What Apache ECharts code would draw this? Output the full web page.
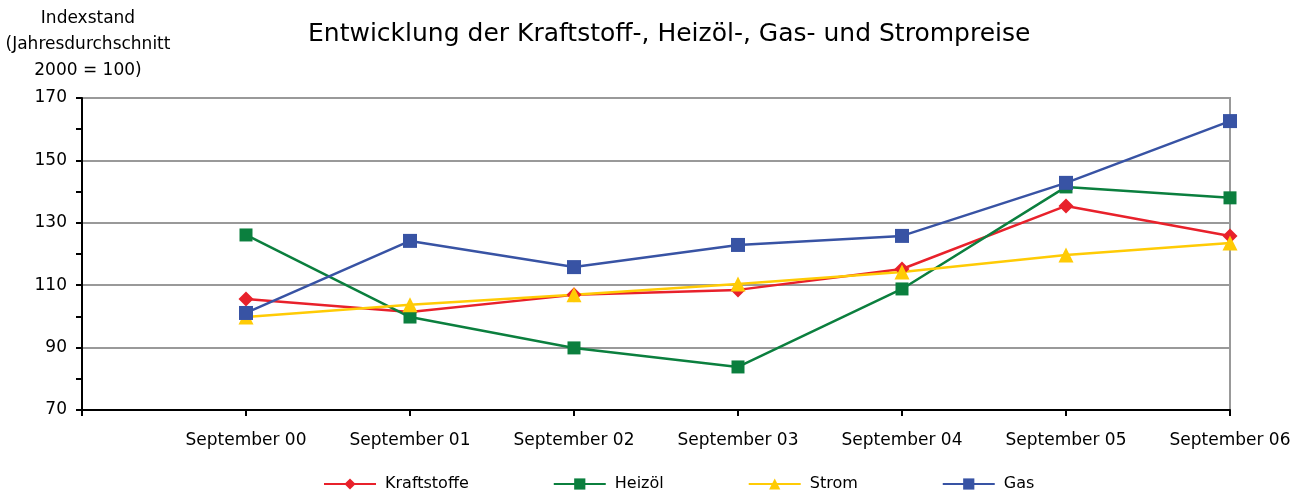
<!DOCTYPE html>
<html>
<head>
<meta charset="utf-8">
<script src="https://cdn.jsdelivr.net/npm/echarts@6/dist/echarts.min.js"></script>
<style>html,body{margin:0;padding:0;background:#fff;}#chart{width:1301px;height:491px;}</style>
</head>
<body>
<div id="chart"></div>
<script>
const categories = ['', 'September 00', 'September 01', 'September 02', 'September 03', 'September 04', 'September 05', 'September 06'];
const kraftstoffe = [105.6, 101.4, 106.9, 108.5, 115.2, 135.4, 125.8];
const heizoel = [126.1, 99.8, 89.9, 83.8, 108.8, 141.5, 138.0];
const strom = [99.8, 103.7, 106.9, 110.4, 114.2, 119.7, 123.5];
const gas = [101.1, 124.2, 115.8, 122.9, 125.8, 142.8, 162.6];
const yTicks = { min: 70, max: 170, interval: 20 };

const FONT = 'DejaVu Sans';
function mk(name, values, color, symbol, size) {
  return {
    name: name, type: 'line', data: [null].concat(values),
    symbol: symbol, symbolSize: size, showSymbol: true,
    lineStyle: { color: color, width: 2.5 },
    itemStyle: { color: color },
    animation: false
  };
}
const chart = echarts.init(document.getElementById('chart'));
chart.setOption({
  animation: false,
  textStyle: { fontFamily: FONT },
  title: {
    text: 'Entwicklung der Kraftstoff-, Heizöl-, Gas- und Strompreise',
    left: 303, top: 17,
    textStyle: { fontFamily: FONT, fontSize: 25, fontWeight: 'normal', color: '#000' }
  },
  graphic: [
    { type: 'text', x: 88, y: 6, style: { text: 'Indexstand\n(Jahresdurchschnitt\n2000 = 100)', fill: '#000', fontFamily: FONT, fontSize: 17, textAlign: 'center', textVerticalAlign: 'top', lineHeight: 26 } }
  ],
  legend: {
    left: 318, top: 471,
    itemWidth: 52, itemHeight: 14, itemGap: 84,
    textStyle: { fontFamily: FONT, fontSize: 16, color: '#000', padding: [0, 0, 0, 4] },
    data: ['Kraftstoffe', 'Heizöl', 'Strom', 'Gas']
  },
  grid: { left: 82, right: 71, top: 98, bottom: 81, show: true, borderColor: '#999', borderWidth: 2, containLabel: false },
  xAxis: {
    type: 'category', data: categories, boundaryGap: false,
    axisLine: { lineStyle: { color: '#000', width: 2 } },
    axisTick: { show: true, length: 6, lineStyle: { color: '#000', width: 2 } },
    axisLabel: { color: '#000', fontSize: 17, margin: 22, fontFamily: FONT, interval: 0 },
    splitLine: { show: false }
  },
  yAxis: {
    type: 'value', min: yTicks.min, max: yTicks.max, interval: yTicks.interval,
    axisLine: { show: true, lineStyle: { color: '#000', width: 2 } },
    axisTick: { show: true, length: 6, lineStyle: { color: '#000', width: 2 } },
    minorTick: { show: true, splitNumber: 2, length: 6, lineStyle: { color: '#000', width: 2 } },
    axisLabel: { color: '#000', fontSize: 17, margin: 15, fontFamily: FONT },
    splitLine: { show: true, lineStyle: { color: '#999', width: 2 } }
  },
  series: [
    mk('Kraftstoffe', kraftstoffe, '#e8212b', 'diamond', 15),
    mk('Heizöl', heizoel, '#0b7f3e', 'rect', 13),
    mk('Strom', strom, '#ffcb05', 'triangle', 15),
    mk('Gas', gas, '#3853a4', 'rect', 14)
  ]
});
</script>
</body>
</html>
